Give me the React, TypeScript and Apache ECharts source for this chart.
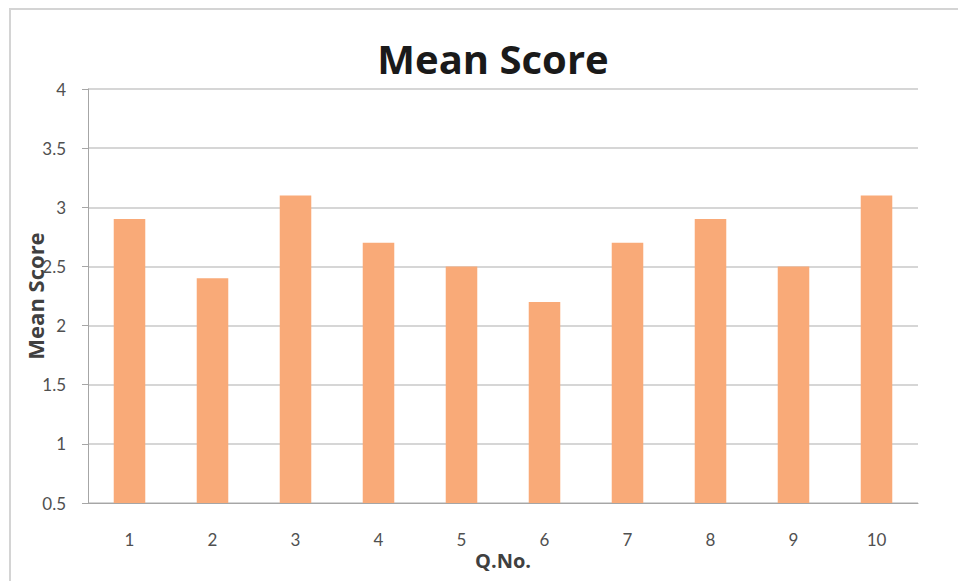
import React, { useEffect, useRef } from "react";
import * as echarts from "echarts";

const categories = ["1", "2", "3", "4", "5", "6", "7", "8", "9", "10"];
const meanScores = [2.9, 2.4, 3.1, 2.7, 2.5, 2.2, 2.7, 2.9, 2.5, 3.1];
const yTicks = { min: 0.5, max: 4, interval: 0.5 };

export default function App() {
  const ref = useRef<HTMLDivElement>(null);
  useEffect(() => {
    document.body.style.margin = "0";
    const chart = echarts.init(ref.current!, null, { renderer: "svg" });
    chart.setOption({
      animation: false,
      backgroundColor: "#ffffff",
      textStyle: { fontFamily: "Lato" },
      title: {
        text: "Mean Score",
        left: 488,
        top: 33,
        textAlign: "center",
        textStyle: { fontFamily: "Open Sans", fontSize: 40, fontWeight: "bold", color: "#1a1a1a" },
      },
      graphic: [
        {
          type: "rect",
          shape: { x: 10, y: 9, width: 952, height: 580 },
          style: { fill: "none", stroke: "#d4d4d4", lineWidth: 2 },
          silent: true,
        },
      ],
      grid: { left: 88, right: 40, top: 89, bottom: 78, containLabel: false },
      xAxis: {
        type: "category",
        data: categories,
        name: "Q.No.",
        nameLocation: "middle",
        nameGap: 47,
        nameMoveOverlap: false,
        nameTextStyle: {
          fontFamily: "Open Sans",
          fontSize: 20,
          fontWeight: "bold",
          color: "#404040",
        },
        axisLine: { lineStyle: { color: "#a6a6a6", width: 1 } },
        axisTick: { show: false },
        axisLabel: { fontFamily: "Lato", fontSize: 17, color: "#505050", margin: 28 },
      },
      yAxis: {
        type: "value",
        min: yTicks.min,
        max: yTicks.max,
        interval: yTicks.interval,
        name: "Mean Score",
        nameLocation: "middle",
        nameGap: 42,
        nameMoveOverlap: false,
        nameTextStyle: { fontFamily: "Open Sans", fontSize: 22, fontWeight: "bold", color: "#404040" },
        axisLine: { show: true, lineStyle: { color: "#a6a6a6", width: 1 } },
        axisTick: { show: true, length: 6, lineStyle: { color: "#a6a6a6" } },
        axisLabel: { fontFamily: "Lato", fontSize: 17, color: "#505050", margin: 22 },
        splitLine: { lineStyle: { color: "#c8c8c8", width: 1.5 } },
      },
      series: [
        {
          type: "bar",
          data: meanScores,
          barWidth: "38%",
          itemStyle: { color: "#F9AA78" },
        },
      ],
    });
    return () => chart.dispose();
  }, []);
  return <div ref={ref} style={{ position: "absolute", left: 0, top: 0, width: 958, height: 581 }} />;
}
